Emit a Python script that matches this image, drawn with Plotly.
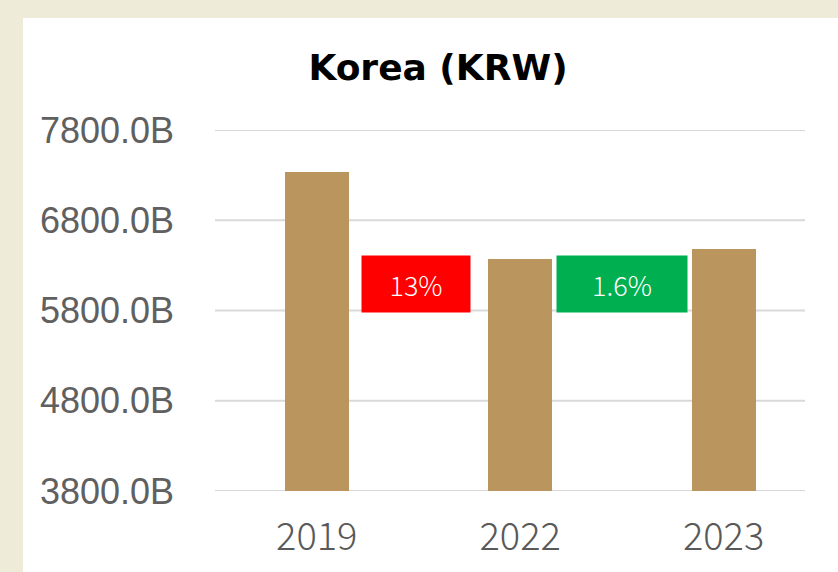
import plotly.graph_objects as go

categories = ["2019", "2022", "2023"]
values = [7335, 6371, 6481]
change_labels = ["13%", "1.6%"]
change_colors = ["#FF0000", "#00B050"]
y_ticks = [3800, 4800, 5800, 6800, 7800]
y_tick_labels = ["3800.0B", "4800.0B", "5800.0B", "6800.0B", "7800.0B"]

x_idx = list(range(len(categories)))

fig = go.Figure()
fig.add_trace(go.Bar(
    x=x_idx, y=[v - 3800 for v in values], base=3800,
    width=0.315, marker=dict(color="#BA955E", line=dict(width=0)),
    hoverinfo="skip",
))

# white card on beige background
fig.add_shape(type="rect", xref="paper", yref="paper",
              x0=-0.3254, x1=1.06, y0=-0.23, y1=1.310,
              fillcolor="white", line=dict(width=0), layer="below")

# gridlines (including range edges)
for t in y_ticks:
    fig.add_shape(type="line", xref="paper", yref="y", x0=0, x1=1, y0=t, y1=t,
                  line=dict(color="#D9D9D9", width=2), layer="below")

box_widths = [108, 130]
box_x = [0.488, 1.5]
for i, (lab, col) in enumerate(zip(change_labels, change_colors)):
    fig.add_annotation(
        x=box_x[i], y=6093, xref="x", yref="y",
        text=lab, showarrow=False,
        font=dict(family="Noto Sans CJK JP", size=27, color="white", weight=300),
        bgcolor=col, width=box_widths[i], height=56, borderpad=0,
        xanchor="center", yanchor="middle",
    )

fig.update_layout(
    width=838, height=572,
    margin=dict(l=215, r=33, t=130, b=81),
    paper_bgcolor="#EEEBD9",
    plot_bgcolor="rgba(0,0,0,0)",
    showlegend=False,
    title=dict(text="<b>Korea (KRW)</b>", x=438 / 838, xref="container", xanchor="center",
               y=1 - 67 / 572, yref="container", yanchor="middle",
               font=dict(family="DejaVu Sans", size=36, color="black")),
    bargap=0,
)

fig.update_xaxes(
    range=[-0.5, 2.4], tickmode="array", tickvals=x_idx, ticktext=categories,
    showgrid=False, zeroline=False, showline=False, ticks="",
    tickfont=dict(family="Noto Sans CJK JP", size=38, color="#595959", weight=300),
    ticklabelstandoff=20,
)
fig.update_yaxes(
    range=[3800, 7800], tickmode="array", tickvals=y_ticks, ticktext=y_tick_labels,
    showgrid=False, zeroline=False,
    showline=False, ticks="",
    tickfont=dict(family="Liberation Sans", size=36, color="#606060"),
    ticklabelstandoff=40,
)

fig.write_html("out.html", config={"displayModeBar": False},
               post_script="document.body.style.margin='0';")
